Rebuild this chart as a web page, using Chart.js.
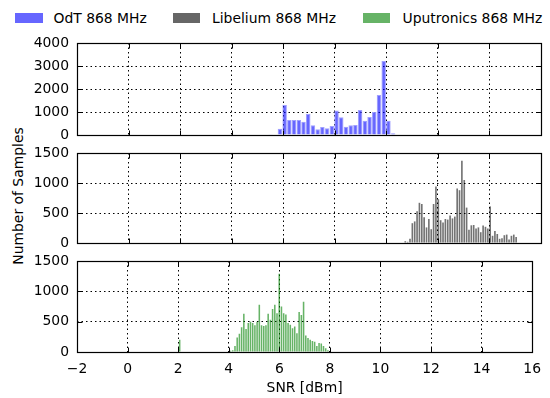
<!DOCTYPE html>
<html>
<head>
<meta charset="utf-8">
<style>
body { margin: 0; background: #fff; }
#wrap { position: relative; width: 550px; height: 398px; font-family: 'DejaVu Sans'; font-size: 13.9px; color: #000; }
canvas { position: absolute; left: 0; }
.patch { position: absolute; top: 13px; width: 27.5px; height: 9.7px; }
.lab { position: absolute; top: 9px; line-height: 18px; white-space: nowrap; }
#ytitle { position: absolute; left: 17.5px; top: 196px; transform: translate(-50%, -50%) rotate(-90deg); white-space: nowrap; }
</style>
</head>
<body>
<div id="wrap">
  <div class="patch" style="left:15px;background:rgba(0,0,255,0.6)"></div>
  <div class="lab" style="left:53.5px">OdT 868 MHz</div>
  <div class="patch" style="left:172.5px;background:rgba(0,0,0,0.6)"></div>
  <div class="lab" style="left:212px">Libelium 868 MHz</div>
  <div class="patch" style="left:362.7px;background:rgba(0,128,0,0.6)"></div>
  <div class="lab" style="left:402.5px">Uputronics 868 MHz</div>
  <div id="ytitle">Number of Samples</div>
  <canvas id="c1" width="550" height="126" style="top:26px"></canvas>
  <canvas id="c2" width="550" height="124" style="top:136px"></canvas>
  <canvas id="c3" width="550" height="154" style="top:244px"></canvas>
</div>
<script src="https://cdn.jsdelivr.net/npm/chart.js@4"></script>
<script>
// shared x axis
const xTickValues = [-2, 0, 2, 4, 6, 8, 10, 12, 14, 16];
const odtYTicks = [0, 1000, 2000, 3000, 4000];
const libYTicks = [0, 500, 1000, 1500];
const upuYTicks = [0, 500, 1000, 1500];

// histogram bins (first bin centre, bin width) and counts
const odtBinStart = 5.14, odtBinStep = 0.183;
const odtCounts = [20, 0, 30, 0, 270, 1300, 650, 650, 650, 580, 910, 420, 250, 350, 290, 390,
  1060, 770, 360, 420, 440, 1090, 620, 780, 1000, 1740, 3220, 620, 80];

const libBinStart = 10.735, libBinStep = 0.0915;
const libCounts = [30, 20, 70, 330, 360, 530, 670, 650, 430, 260, 400, 230, 650, 940, 730, 380,
  340, 400, 390, 460, 410, 440, 910, 880, 1370, 1050, 590, 220, 295, 300, 240, 260, 180, 290,
  270, 240, 610, 120, 200, 150, 70, 80, 130, 140, 60, 120, 140, 100];

const upuBinStart = 2.06, upuBinStep = 0.0875;
const upuCounts = [200, 0, 0, 0, 0, 0, 0, 0, 0, 0, 0, 0, 0, 0, 0, 0, 0, 0, 0, 0, 0, 0, 0,
  20, 30, 100, 240, 300, 410, 630, 380, 480, 500, 480, 440, 500, 780, 440, 430, 440, 630, 530,
  710, 780, 640, 1290, 750, 640, 620, 480, 450, 390, 420, 310, 660, 610, 830, 270, 230, 200,
  180, 170, 100, 150, 140, 100, 60, 30];

const FONT = { family: 'DejaVu Sans', size: 13.9 };

function binData(start, step, counts) {
  return counts.map((c, i) => ({ x: start + i * step, y: c }));
}

function crisp(v) { return Math.round(v) + 0.5; }

// box around the axes + inward tick marks on all four sides
const framePlugin = {
  id: 'frame',
  afterDraw(chart) {
    const { ctx, chartArea: a, scales } = chart;
    const L = crisp(a.left), R = crisp(a.right), T = crisp(a.top), B = crisp(a.bottom);
    ctx.save();
    ctx.strokeStyle = '#000';
    ctx.lineWidth = 1;
    ctx.beginPath();
    scales.x.ticks.forEach(t => {
      const px = crisp(scales.x.getPixelForValue(t.value));
      ctx.moveTo(px, B); ctx.lineTo(px, B - 5);
      ctx.moveTo(px, T); ctx.lineTo(px, T + 5);
    });
    scales.y.ticks.forEach(t => {
      const py = crisp(scales.y.getPixelForValue(t.value));
      ctx.moveTo(L, py); ctx.lineTo(L + 5, py);
      ctx.moveTo(R, py); ctx.lineTo(R - 5, py);
    });
    ctx.stroke();
    ctx.lineWidth = 1.2;
    ctx.strokeRect(L, T, R - L, B - T);
    ctx.restore();
  }
};

function makeChart(id, data, fill, edge, barPct, yMax, yTicks, showX, pad) {
  return new Chart(document.getElementById(id), {
    type: 'bar',
    data: {
      datasets: [{
        data: data,
        backgroundColor: fill,
        borderColor: edge,
        borderWidth: edge ? 1 : 0,
        categoryPercentage: 1,
        barPercentage: barPct
      }]
    },
    options: {
      responsive: false,
      animation: false,
      layout: { padding: pad },
      plugins: { legend: { display: false }, tooltip: { enabled: false } },
      scales: {
        x: {
          type: 'linear',
          min: -2, max: 16,
          offset: false,
          afterBuildTicks: s => { s.ticks = xTickValues.map(v => ({ value: v })); },
          afterFit: s => { s.height = showX ? 46 : 0; },
          grid: { color: '#000', lineWidth: 1, drawTicks: false, offset: false },
          border: { display: false, dash: [1.5, 3] },
          ticks: {
            display: showX,
            padding: 9,
            color: '#000',
            font: FONT,
            maxRotation: 0,
            callback: v => (v < 0 ? '\u2212' + Math.abs(v) : String(v))
          },
          title: {
            display: showX,
            text: 'SNR [dBm]',
            color: '#000',
            font: FONT,
            padding: { top: 0, bottom: 1 }
          }
        },
        y: {
          min: 0, max: yMax,
          afterBuildTicks: s => { s.ticks = yTicks.map(v => ({ value: v })); },
          afterFit: s => { s.width = 77; },
          grid: { color: '#000', lineWidth: 1, drawTicks: false },
          border: { display: false, dash: [1.5, 3] },
          ticks: { padding: 8, color: '#000', font: FONT, callback: v => String(v) }
        }
      }
    },
    plugins: [framePlugin]
  });
}

makeChart('c1', binData(odtBinStart, odtBinStep, odtCounts),
  'rgba(0,0,255,0.6)', 'rgba(150,150,255,0.9)', 0.95, 4000, odtYTicks, false,
  { left: 0, right: 9, top: 17, bottom: 17 });
makeChart('c2', binData(libBinStart, libBinStep, libCounts),
  'rgba(0,0,0,0.55)', null, 0.7, 1500, libYTicks, false,
  { left: 0, right: 9, top: 17, bottom: 17 });
makeChart('c3', binData(upuBinStart, upuBinStep, upuCounts),
  'rgba(0,128,0,0.6)', null, 0.7, 1500, upuYTicks, true,
  { left: 0, right: 9, top: 17, bottom: 0 });
</script>
</body>
</html>
